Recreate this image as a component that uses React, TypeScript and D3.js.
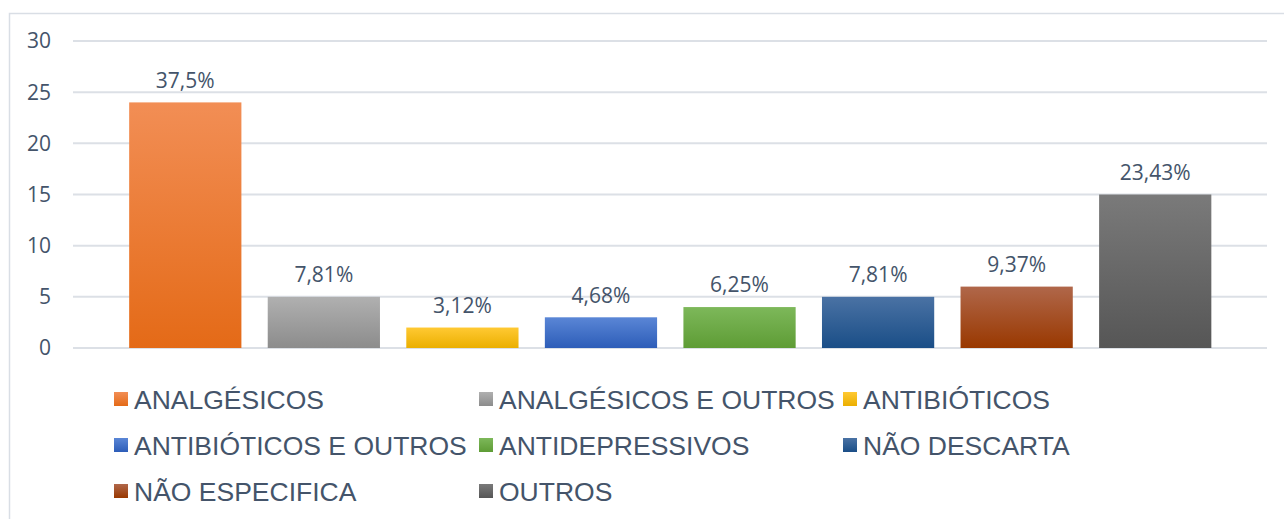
import React from "react";
import * as d3 from "d3";

const categories = [
  "ANALGÉSICOS",
  "ANALGÉSICOS E OUTROS",
  "ANTIBIÓTICOS",
  "ANTIBIÓTICOS E OUTROS",
  "ANTIDEPRESSIVOS",
  "NÃO DESCARTA",
  "NÃO ESPECIFICA",
  "OUTROS",
];
const values = [24, 5, 2, 3, 4, 5, 6, 15];
const labels = ["37,5%", "7,81%", "3,12%", "4,68%", "6,25%", "7,81%", "9,37%", "23,43%"];
const yTicks = [0, 5, 10, 15, 20, 25, 30];
const colorsTop = ["#F28E55", "#B0B0B0", "#FFC933", "#5A86D6", "#7DB85A", "#4A72A4", "#B0674A", "#7A7A7A"];
const colorsBottom = ["#E46A17", "#8C8C8C", "#EBAF00", "#2D5DB8", "#5E9C35", "#1A4E87", "#993800", "#565656"];

const W = 1284;
const H = 519;
const TEXT = "#44546A";

export default function App() {
  const y = d3.scaleLinear().domain([0, 30]).range([348, 41]);
  const x = d3.scaleBand().domain(categories).range([116, 1224.5]).paddingInner(0.19).paddingOuter(0.095);

  const legendCols = [114, 479, 843];
  const legendRows = [399, 445, 491];

  return (
    <div style={{ position: "absolute", left: 0, top: 0 }}>
      <svg width={W} height={H} style={{ display: "block" }}>
        <defs>
          {categories.map((c, i) => (
            <linearGradient key={c} id={`g${i}`} x1="0" y1="0" x2="0" y2="1">
              <stop offset="0%" stopColor={colorsTop[i]} />
              <stop offset="100%" stopColor={colorsBottom[i]} />
            </linearGradient>
          ))}
        </defs>
        <rect x={0} y={0} width={W} height={H} fill="#fff" />
        <rect x={9.5} y={13.5} width={1290} height={520} fill="#fff" stroke="#D9DEE5" strokeWidth={1.5} />
        {yTicks.map((t) => (
          <g key={t}>
            <line x1={73} x2={1267} y1={y(t)} y2={y(t)} stroke="#DCE0E6" strokeWidth={2} />
            <text
              x={51}
              y={y(t)}
              dy="0.35em"
              textAnchor="end"
              fontFamily="'Open Sans', sans-serif"
              fontSize={21}
              fill={TEXT}
            >
              {t}
            </text>
          </g>
        ))}
        {categories.map((c, i) => (
          <g key={c}>
            <rect
              x={x(c)}
              y={y(values[i])}
              width={x.bandwidth()}
              height={y(0) - y(values[i])}
              fill={`url(#g${i})`}
            />
            <text
              x={(x(c) as number) + x.bandwidth() / 2}
              y={y(values[i]) - 22}
              dy="0.35em"
              textAnchor="middle"
              fontFamily="'Open Sans', sans-serif"
              fontSize={21}
              fill={TEXT}
            >
              {labels[i]}
            </text>
          </g>
        ))}
        {categories.map((c, i) => {
          const col = i % 3;
          const row = Math.floor(i / 3);
          const lx = legendCols[col];
          const ly = legendRows[row];
          return (
            <g key={`l${c}`}>
              <rect x={lx} y={ly - 7} width={14} height={14} fill={`url(#g${i})`} />
              <text
                x={lx + 20}
                y={ly}
                dy="0.36em"
                fontFamily="'Liberation Sans', Arial, sans-serif"
                fontSize={26.5}
                fill={TEXT}
              >
                {c}
              </text>
            </g>
          );
        })}
      </svg>
    </div>
  );
}
